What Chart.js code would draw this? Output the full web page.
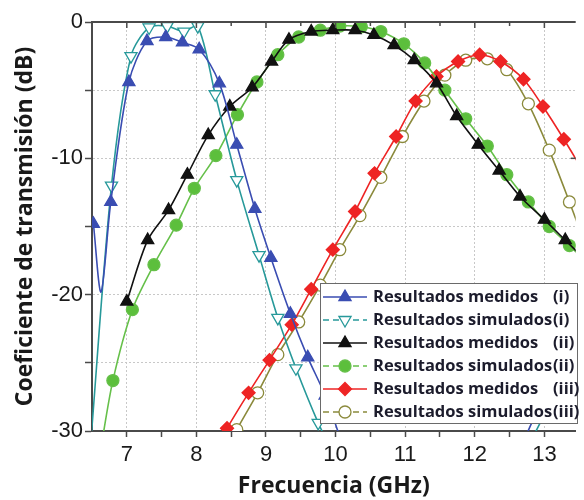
<!DOCTYPE html>
<html>
<head>
<meta charset="utf-8">
<script src="https://cdn.jsdelivr.net/npm/chart.js"></script>
<style>
  html, body { margin: 0; padding: 0; background: #fff; }
  #wrap { width: 584px; height: 500px; position: relative; }
</style>
</head>
<body>
<div id="wrap"><canvas id="grafica"></canvas></div>
<script>
// Datos (frecuencia en GHz, transmisión en dB)
const medidosI_x = [6.52, 6.63, 6.77, 7.03, 7.29, 7.56, 7.8, 8.04, 8.33, 8.58, 8.84, 9.07, 9.35, 9.6, 9.85, 10.1, 11.4, 12.72, 13.1, 13.6];
const medidosI_y = [-14.8, -19.8, -13.2, -4.4, -1.4, -1.1, -1.5, -2.0, -4.5, -9.0, -13.7, -17.3, -21.4, -24.6, -27.4, -31, null, -30.5, -26.5, -23.5];

const simuladosI_x = [6.48, 6.78, 7.06, 7.32, 7.58, 7.82, 8.02, 8.27, 8.58, 8.9, 9.17, 9.43, 9.75, 10.0, 11.4, 12.85, 13.2, 13.6];
const simuladosI_y = [-31, -12.0, -2.5, -0.4, -0.3, -0.7, -0.3, -5.3, -11.6, -17.1, -21.7, -25.4, -29.4, -32, null, -30.3, -26.8, -23.0];

const medidosII_x = [7.0, 7.3, 7.6, 7.87, 8.17, 8.48, 8.8, 9.08, 9.33, 9.65, 9.96, 10.28, 10.55, 10.84, 11.13, 11.45, 11.74, 12.05, 12.35, 12.65, 13.0, 13.3, 13.6];
const medidosII_y = [-20.5, -16.0, -13.8, -11.2, -8.3, -6.2, -4.8, -2.9, -1.3, -0.7, -0.6, -0.6, -0.95, -1.7, -2.8, -4.5, -6.9, -9.0, -10.9, -12.8, -14.5, -16.0, -17.5];

const simuladosII_x = [6.62, 6.8, 7.08, 7.39, 7.71, 7.97, 8.28, 8.59, 8.87, 9.17, 9.47, 9.78, 10.06, 10.37, 10.65, 10.98, 11.28, 11.57, 11.87, 12.18, 12.46, 12.77, 13.07, 13.36, 13.6];
const simuladosII_y = [-31.5, -26.3, -21.1, -17.8, -14.9, -12.2, -9.8, -6.8, -4.4, -2.4, -1.1, -0.6, -0.3, -0.35, -0.7, -1.6, -3.0, -5.0, -7.1, -9.1, -11.2, -13.2, -15.0, -16.4, -17.6];

const medidosIII_x = [8.2, 8.44, 8.75, 9.05, 9.37, 9.65, 9.96, 10.28, 10.56, 10.87, 11.15, 11.45, 11.76, 12.07, 12.37, 12.7, 12.98, 13.28, 13.6];
const medidosIII_y = [-32, -29.8, -27.2, -24.8, -22.2, -19.6, -16.7, -13.9, -11.1, -8.4, -5.8, -4.0, -2.9, -2.4, -2.9, -4.2, -6.2, -8.6, -11.3];

const simuladosIII_x = [8.3, 8.58, 8.88, 9.17, 9.47, 9.78, 10.06, 10.35, 10.65, 10.96, 11.27, 11.57, 11.87, 12.18, 12.46, 12.77, 13.07, 13.36, 13.6];
const simuladosIII_y = [-32.5, -29.9, -27.2, -24.4, -22.0, -19.3, -16.7, -14.2, -11.4, -8.4, -5.8, -3.9, -2.8, -2.7, -3.5, -6.0, -9.4, -13.2, -16.5];

const etiquetas = [
    ['Resultados medidos', '(i)'],
    ['Resultados simulados', '(i)'],
    ['Resultados medidos', '(ii)'],
    ['Resultados simulados', '(ii)'],
    ['Resultados medidos', '(iii)'],
    ['Resultados simulados', '(iii)']
];
const ticksY = [-30, -25, -20, -15, -10, -5, 0];
const ticksX = [7, 7.5, 8, 8.5, 9, 9.5, 10, 10.5, 11, 11.5, 12, 12.5, 13];

const X_MIN = 6.5, X_MAX = 13.45;

function puntos(xs, ys) {
    return xs.map((x, i) => ({ x: x, y: ys[i] }));
}

// oculta marcas fuera del área visible
function radio(r, sinMarca) {
    return function (c) {
        const p = c.raw;
        if (!p || p.y === null) return 0;
        if (p.x < X_MIN || p.x > X_MAX || p.y < -30) return 0;
        if (sinMarca && sinMarca.indexOf(c.dataIndex) >= 0) return 0;
        return r;
    };
}

const series = [
    { data: puntos(medidosI_x, medidosI_y), color: '#3a4db2', fill: '#3a4db2', forma: 'triangle', rot: 0, r: 7, sinMarca: [1], dash: false },
    { data: puntos(simuladosI_x, simuladosI_y), color: '#27999a', fill: '#ffffff', forma: 'triangle', rot: 180, r: 7, dash: true },
    { data: puntos(medidosII_x, medidosII_y), color: '#111111', fill: '#111111', forma: 'triangle', rot: 0, r: 7, dash: false },
    { data: puntos(simuladosII_x, simuladosII_y), color: '#66c04a', fill: '#5cbf3c', forma: 'circle', rot: 0, r: 6, dash: true },
    { data: puntos(medidosIII_x, medidosIII_y), color: '#ee2424', fill: '#ee2424', forma: 'rectRot', rot: 0, r: 6.5, dash: false },
    { data: puntos(simuladosIII_x, simuladosIII_y), color: '#8b8a3c', fill: '#ffffff', forma: 'circle', rot: 0, r: 6, dash: true }
];

const datasets = series.map((s, i) => ({
    label: etiquetas[i].join(' '),
    data: s.data,
    borderColor: s.color,
    borderWidth: 1.6,
    backgroundColor: s.fill,
    pointStyle: s.forma,
    pointRotation: s.rot,
    pointRadius: radio(s.r, s.sinMarca),
    pointBackgroundColor: s.fill,
    pointBorderColor: s.color,
    pointBorderWidth: 1.3,
    tension: 0.3,
    spanGaps: false,
    fill: false
}));

function marca(ctx, s, x, y) {
    const r = s.r;
    ctx.save();
    ctx.fillStyle = s.fill;
    ctx.strokeStyle = s.color;
    ctx.lineWidth = 1.3;
    ctx.setLineDash([]);
    ctx.beginPath();
    if (s.forma === 'circle') {
        ctx.arc(x, y, r, 0, Math.PI * 2);
    } else if (s.forma === 'rectRot') {
        ctx.moveTo(x, y - r); ctx.lineTo(x + r, y); ctx.lineTo(x, y + r); ctx.lineTo(x - r, y);
    } else {
        const d = s.rot === 180 ? -1 : 1;
        ctx.moveTo(x, y - d * r);
        ctx.lineTo(x + r * 0.866, y + d * r * 0.5);
        ctx.lineTo(x - r * 0.866, y + d * r * 0.5);
    }
    ctx.closePath();
    ctx.fill();
    ctx.stroke();
    ctx.restore();
}

const marco = {
    id: 'marco',
    afterDatasetsDraw(chart) {
        const ctx = chart.ctx;
        const a = chart.chartArea;
        const xs = chart.scales.x;
        const ys = chart.scales.y;
        ctx.save();
        // borde superior con marcas hacia dentro
        ctx.strokeStyle = '#4a4a4a';
        ctx.lineWidth = 2;
        ctx.beginPath();
        ctx.moveTo(a.left, a.top);
        ctx.lineTo(a.right, a.top);
        ctx.stroke();
        ctx.lineWidth = 1.5;
        ticksX.forEach(v => {
            const px = xs.getPixelForValue(v);
            const l = v % 1 === 0 ? 6 : 4;
            ctx.beginPath();
            ctx.moveTo(px, a.top);
            ctx.lineTo(px, a.top + l);
            ctx.stroke();
        });
        // marcas del eje derecho (fuera de la imagen, asoman en el borde)
        [-10, -20].forEach(v => {
            const py = ys.getPixelForValue(v);
            ctx.beginPath();
            ctx.moveTo(a.right, py);
            ctx.lineTo(a.right - 5, py);
            ctx.stroke();
        });

        // leyenda
        const bx = 320, by = 283, bw = 257, bh = 140, paso = 23;
        ctx.fillStyle = '#ffffff';
        ctx.fillRect(bx, by, bw, bh);
        ctx.strokeStyle = '#6a6a6a';
        ctx.lineWidth = 1;
        ctx.strokeRect(bx + 0.5, by + 0.5, bw, bh);
        ctx.font = 'bold 16.5px "Open Sans"';
        ctx.textBaseline = 'middle';
        series.forEach((s, i) => {
            const y = by + 14 + i * paso;
            ctx.strokeStyle = s.color;
            ctx.lineWidth = 1.6;
            ctx.setLineDash(s.dash ? [6, 4] : []);
            ctx.beginPath();
            ctx.moveTo(bx + 3, y);
            ctx.lineTo(bx + 47, y);
            ctx.stroke();
            ctx.setLineDash([]);
            marca(ctx, s, bx + 25, y);
            ctx.fillStyle = '#1c1c2c';
            ctx.textAlign = 'left';
            ctx.fillText(etiquetas[i][0], bx + 53, y);
            ctx.fillText(etiquetas[i][1], bx + 233, y);
        });
        ctx.restore();
    }
};

const grafica = new Chart(document.getElementById('grafica'), {
    type: 'line',
    data: { datasets: datasets },
    options: {
        responsive: true,
        maintainAspectRatio: false,
        animation: false,
        layout: { padding: { left: 0, right: 0, top: 22, bottom: 0 } },
        plugins: {
            legend: { display: false },
            tooltip: { enabled: false }
        },
        scales: {
            x: {
                type: 'linear',
                min: X_MIN,
                max: X_MAX,
                afterBuildTicks: sc => { sc.ticks = ticksX.map(v => ({ value: v })); },
                afterFit: sc => { sc.height = 69; },
                ticks: {
                    autoSkip: false,
                    maxRotation: 0,
                    padding: 5,
                    color: '#1a1a1a',
                    font: { family: 'Liberation Sans', size: 22 },
                    callback: v => (v % 1 === 0 ? String(v) : '')
                },
                grid: {
                    color: c => (c.tick && c.tick.value % 1 === 0 ? '#c8c8c8' : 'rgba(0,0,0,0)'),
                    lineWidth: 1,
                    tickColor: '#4a4a4a',
                    tickWidth: 1.5,
                    tickLength: 6
                },
                border: { display: true, color: '#4a4a4a', width: 2, dash: [2, 2] },
                title: {
                    display: true,
                    text: 'Frecuencia (GHz)',
                    color: '#1a1a1a',
                    font: { family: 'Open Sans', size: 23, weight: 'bold' },
                    padding: { top: 0, bottom: 0 }
                }
            },
            y: {
                type: 'linear',
                min: -30,
                max: 0,
                afterBuildTicks: sc => { sc.ticks = ticksY.map(v => ({ value: v })); },
                afterFit: sc => { sc.width = 92; },
                ticks: {
                    autoSkip: false,
                    padding: 2,
                    color: '#1a1a1a',
                    font: { family: 'Liberation Sans', size: 22 },
                    callback: v => (v % 10 === 0 ? String(v) : '')
                },
                grid: {
                    color: '#c8c8c8',
                    lineWidth: 1,
                    tickColor: '#4a4a4a',
                    tickWidth: 1.5,
                    tickLength: 7
                },
                border: { display: true, color: '#4a4a4a', width: 2, dash: [2, 2] },
                title: {
                    display: true,
                    text: 'Coeficiente de transmisión (dB)',
                    color: '#1a1a1a',
                    font: { family: 'Open Sans', size: 23, weight: 'bold' },
                    padding: { top: 12, bottom: 0 }
                }
            }
        }
    },
    plugins: [marco]
});
</script>
</body>
</html>
